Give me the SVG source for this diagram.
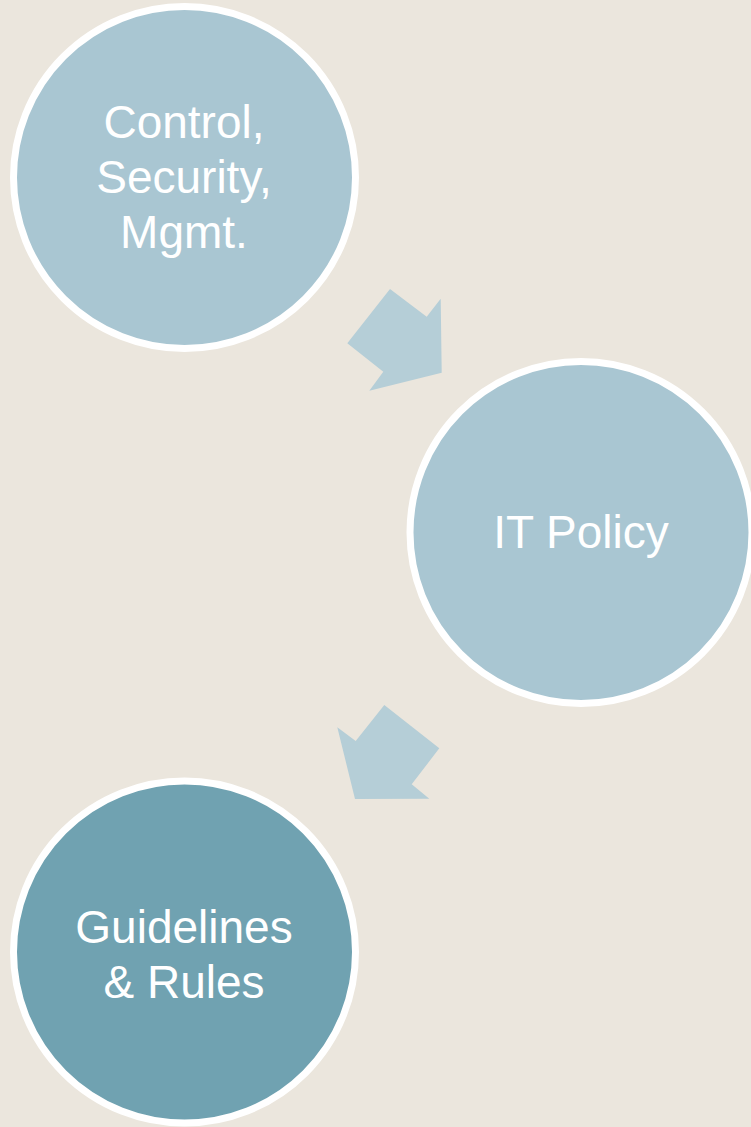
<svg xmlns="http://www.w3.org/2000/svg" width="751" height="1127" viewBox="0 0 751 1127">
<style>
.bg{fill:#ebe6dd}
.node{stroke:#ffffff;stroke-width:7}
.light{fill:#a9c6d2}
.dark{fill:#70a2b1}
.arrow{fill:#b5ced7}
.lbl{font-family:"Liberation Sans",Arial,sans-serif;font-size:46px;fill:#ffffff;text-anchor:middle}
</style>
<rect class="bg" x="0" y="0" width="751" height="1127"/>
<g id="connectors">
<polygon class="arrow" points="390,289 426.7,316.7 440.7,298.7 441.7,372.7 369.3,390.7 383.3,371.7 347.3,343.3"/>
<polygon class="arrow" points="384.3,705 439.3,748.3 411.7,784.3 429.3,798.7 355,799 337.3,727.3 355.7,741"/>
</g>
<g id="node-control">
<circle class="node light" cx="184.5" cy="177.5" r="171"/>
<text class="lbl" x="184" y="138">Control,</text>
<text class="lbl" x="184" y="193">Security,</text>
<text class="lbl" x="184" y="248">Mgmt.</text>
</g>
<g id="node-itpolicy">
<circle class="node light" cx="581" cy="532.5" r="171"/>
<text class="lbl" x="581" y="548">IT Policy</text>
</g>
<g id="node-guidelines">
<circle class="node dark" cx="184.5" cy="952" r="171"/>
<text class="lbl" x="184" y="943">Guidelines</text>
<text class="lbl" x="184" y="998">&amp; Rules</text>
</g>
</svg>
